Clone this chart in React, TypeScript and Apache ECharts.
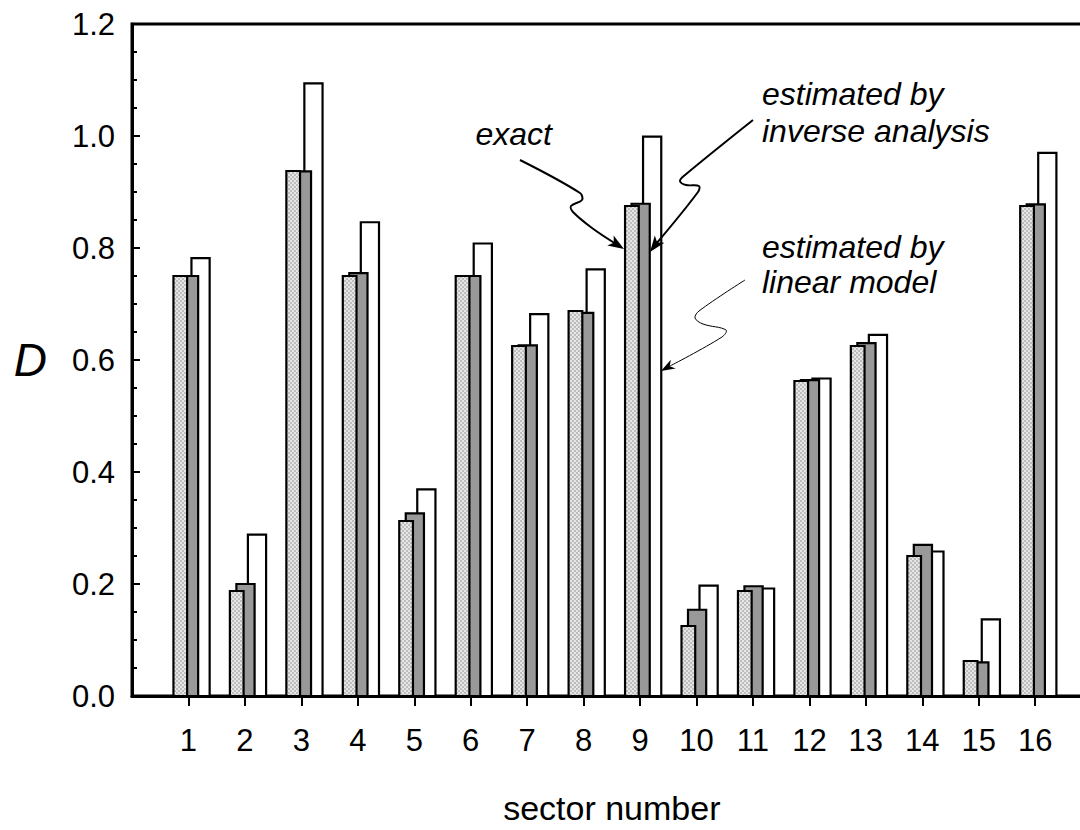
import React, { useEffect, useRef } from "react";
import * as echarts from "echarts";

// ---- data ----
const sectors = ["1", "2", "3", "4", "5", "6", "7", "8", "9", "10", "11", "12", "13", "14", "15", "16"];
const exactD = [0.75, 0.1875, 0.9375, 0.75, 0.3125, 0.75, 0.625, 0.6875, 0.875, 0.125, 0.1875, 0.5625, 0.625, 0.25, 0.0625, 0.875];
const inverseD = [0.75, 0.2, 0.937, 0.755, 0.326, 0.75, 0.626, 0.684, 0.879, 0.154, 0.196, 0.564, 0.63, 0.27, 0.06, 0.878];
const linearD = [0.782, 0.288, 1.094, 0.846, 0.369, 0.808, 0.682, 0.762, 0.999, 0.197, 0.192, 0.567, 0.645, 0.258, 0.137, 0.97];
const yTickValues = [0, 0.2, 0.4, 0.6, 0.8, 1.0, 1.2];
const annotationTexts = ["exact", "estimated by", "inverse analysis", "estimated by", "linear model"];

const FONT = '"Liberation Sans", Arial, Helvetica, sans-serif';

function arrowHead(tip: number[], prev: number[], L: number, W: number) {
  const dx = tip[0] - prev[0];
  const dy = tip[1] - prev[1];
  const n = Math.sqrt(dx * dx + dy * dy) || 1;
  const ux = dx / n, uy = dy / n;
  const px = -uy, py = ux;
  const bx = tip[0] - L * ux, by = tip[1] - L * uy;
  const nx = tip[0] - (L - 4) * ux, ny = tip[1] - (L - 4) * uy;
  return [
    [tip[0], tip[1]],
    [bx + W * px, by + W * py],
    [nx, ny],
    [bx - W * px, by - W * py],
  ];
}

export default function App() {
  const ref = useRef<HTMLDivElement>(null);
  useEffect(() => {
    document.body.style.margin = "0";
    if (!ref.current) return;
    const chart = echarts.init(ref.current, null, { renderer: "svg" });

    const cv = document.createElement("canvas");
    cv.width = 4;
    cv.height = 4;
    const ctx = cv.getContext("2d");
    if (ctx) {
      ctx.fillStyle = "#e6e6e6";
      ctx.fillRect(0, 0, 4, 4);
      ctx.fillStyle = "#bdbdbd";
      ctx.fillRect(0, 0, 2, 2);
      ctx.fillRect(2, 2, 2, 2);
    }
    const patternFill: any = ctx
      ? { image: cv, repeat: "repeat", imageWidth: 4, imageHeight: 4 }
      : "#d4d4d4";

    const axisData = ["", ...sectors, ""];
    const data = sectors.map((_, i) => [i + 1, exactD[i], inverseD[i], linearD[i]]);

    const a1 = [[520, 160], [580, 193], [582, 200], [571, 206], [573, 212], [592, 228], [616, 244]];
    const a1tip = [624, 249];
    const a2 = [[753, 120], [685, 175], [680, 181], [686, 185], [699, 186], [698, 192], [656, 244]];
    const a2tip = [650, 252];
    const a3 = [[745, 280], [699, 311], [695, 318], [703, 324], [726, 330], [722, 337], [670, 366]];
    const a3tip = [661, 371];

    const txt = (text: string, x: number, y: number, align: string) => ({
      type: "text",
      x,
      y,
      z: 100,
      style: {
        text,
        font: `italic 32px ${FONT}`,
        fill: "#000",
        align,
        verticalAlign: "middle",
      },
    });

    chart.setOption({
      animation: false,
      backgroundColor: "#fff",
      textStyle: { fontFamily: FONT },
      grid: {
        left: 132,
        top: 24,
        width: 959.65,
        height: 672,
        containLabel: false,
        outerBoundsMode: "none",
        show: true,
        borderColor: "#000",
        borderWidth: 3,
        backgroundColor: "transparent",
      },
      xAxis: {
        type: "category",
        data: axisData,
        boundaryGap: false,
        name: "sector number",
        nameLocation: "middle",
        nameGap: 95,
        nameTextStyle: { fontSize: 34, color: "#000", fontFamily: FONT },
        axisLine: { show: true, lineStyle: { color: "#000", width: 3 } },
        axisTick: {
          show: true,
          inside: false,
          length: 10,
          lineStyle: { color: "#000", width: 2 },
          interval: (index: number, value: string) => value !== "",
        },
        axisLabel: {
          show: true,
          interval: 0,
          margin: 29,
          fontSize: 31,
          color: "#000",
          fontFamily: FONT,
        },
        splitLine: { show: false },
      },
      yAxis: {
        type: "value",
        min: 0,
        max: 1.2,
        interval: 0.2,
        name: "D",
        nameLocation: "middle",
        nameRotate: 0,
        nameGap: 85,
        nameTextStyle: { fontSize: 46, fontStyle: "italic", color: "#000", fontFamily: FONT },
        axisLine: { show: true, lineStyle: { color: "#000", width: 3 } },
        axisTick: { show: true, inside: true, length: 8, lineStyle: { color: "#000", width: 2 } },
        minorTick: { show: true, splitNumber: 4, length: 5, lineStyle: { color: "#000", width: 2 } },
        axisLabel: {
          margin: 17,
          fontSize: 31,
          color: "#000",
          fontFamily: FONT,
          formatter: (v: number) => {
            const k = yTickValues.findIndex((t) => Math.abs(t - v) < 1e-6);
            return k >= 0 ? yTickValues[k].toFixed(1) : "";
          },
        },
        splitLine: { show: false },
      },
      series: [
        {
          type: "custom",
          name: "D",
          data,
          clip: false,
          renderItem: (params: any, api: any) => {
            const x = api.value(0);
            const w = api.size([1, 0])[0];
            const s = w / 56.45;
            const c = api.coord([x, 0]);
            const base = c[1];
            const cx = c[0];
            const mk = (v: number, l: number, r: number, fill: any) => {
              const top = api.coord([x, v])[1];
              return {
                type: "rect",
                shape: { x: cx + l * s, y: top, width: (r - l) * s, height: base - top },
                style: { fill, stroke: "#000", lineWidth: 2.2 },
              };
            };
            return {
              type: "group",
              children: [
                mk(api.value(3), 3, 21.2, "#ffffff"),
                mk(api.value(2), -8.5, 9.7, "#999999"),
                mk(api.value(1), -15, -1.3, patternFill),
              ],
            };
          },
          z: 3,
        },
      ],
      graphic: [
        txt(annotationTexts[0], 552, 134, "right"),
        txt(annotationTexts[1], 762, 94, "left"),
        txt(annotationTexts[2], 762, 131, "left"),
        txt(annotationTexts[3], 762, 247, "left"),
        txt(annotationTexts[4], 762, 282, "left"),
        { type: "polyline", z: 100, shape: { points: a1, smooth: 0.35 }, style: { stroke: "#000", lineWidth: 2, fill: null } },
        { type: "polygon", z: 101, shape: { points: arrowHead(a1tip, a1[a1.length - 1], 16, 6) }, style: { fill: "#000" } },
        { type: "polyline", z: 100, shape: { points: a2, smooth: 0.35 }, style: { stroke: "#000", lineWidth: 2, fill: null } },
        { type: "polygon", z: 101, shape: { points: arrowHead(a2tip, a2[a2.length - 1], 16, 6) }, style: { fill: "#000" } },
        { type: "polyline", z: 100, shape: { points: a3, smooth: 0.35 }, style: { stroke: "#000", lineWidth: 1, fill: null } },
        { type: "polygon", z: 101, shape: { points: arrowHead(a3tip, a3[a3.length - 1], 14, 5) }, style: { fill: "#000" } },
      ],
    });
    return () => chart.dispose();
  }, []);
  return <div ref={ref} style={{ width: 1080, height: 830 }} />;
}
